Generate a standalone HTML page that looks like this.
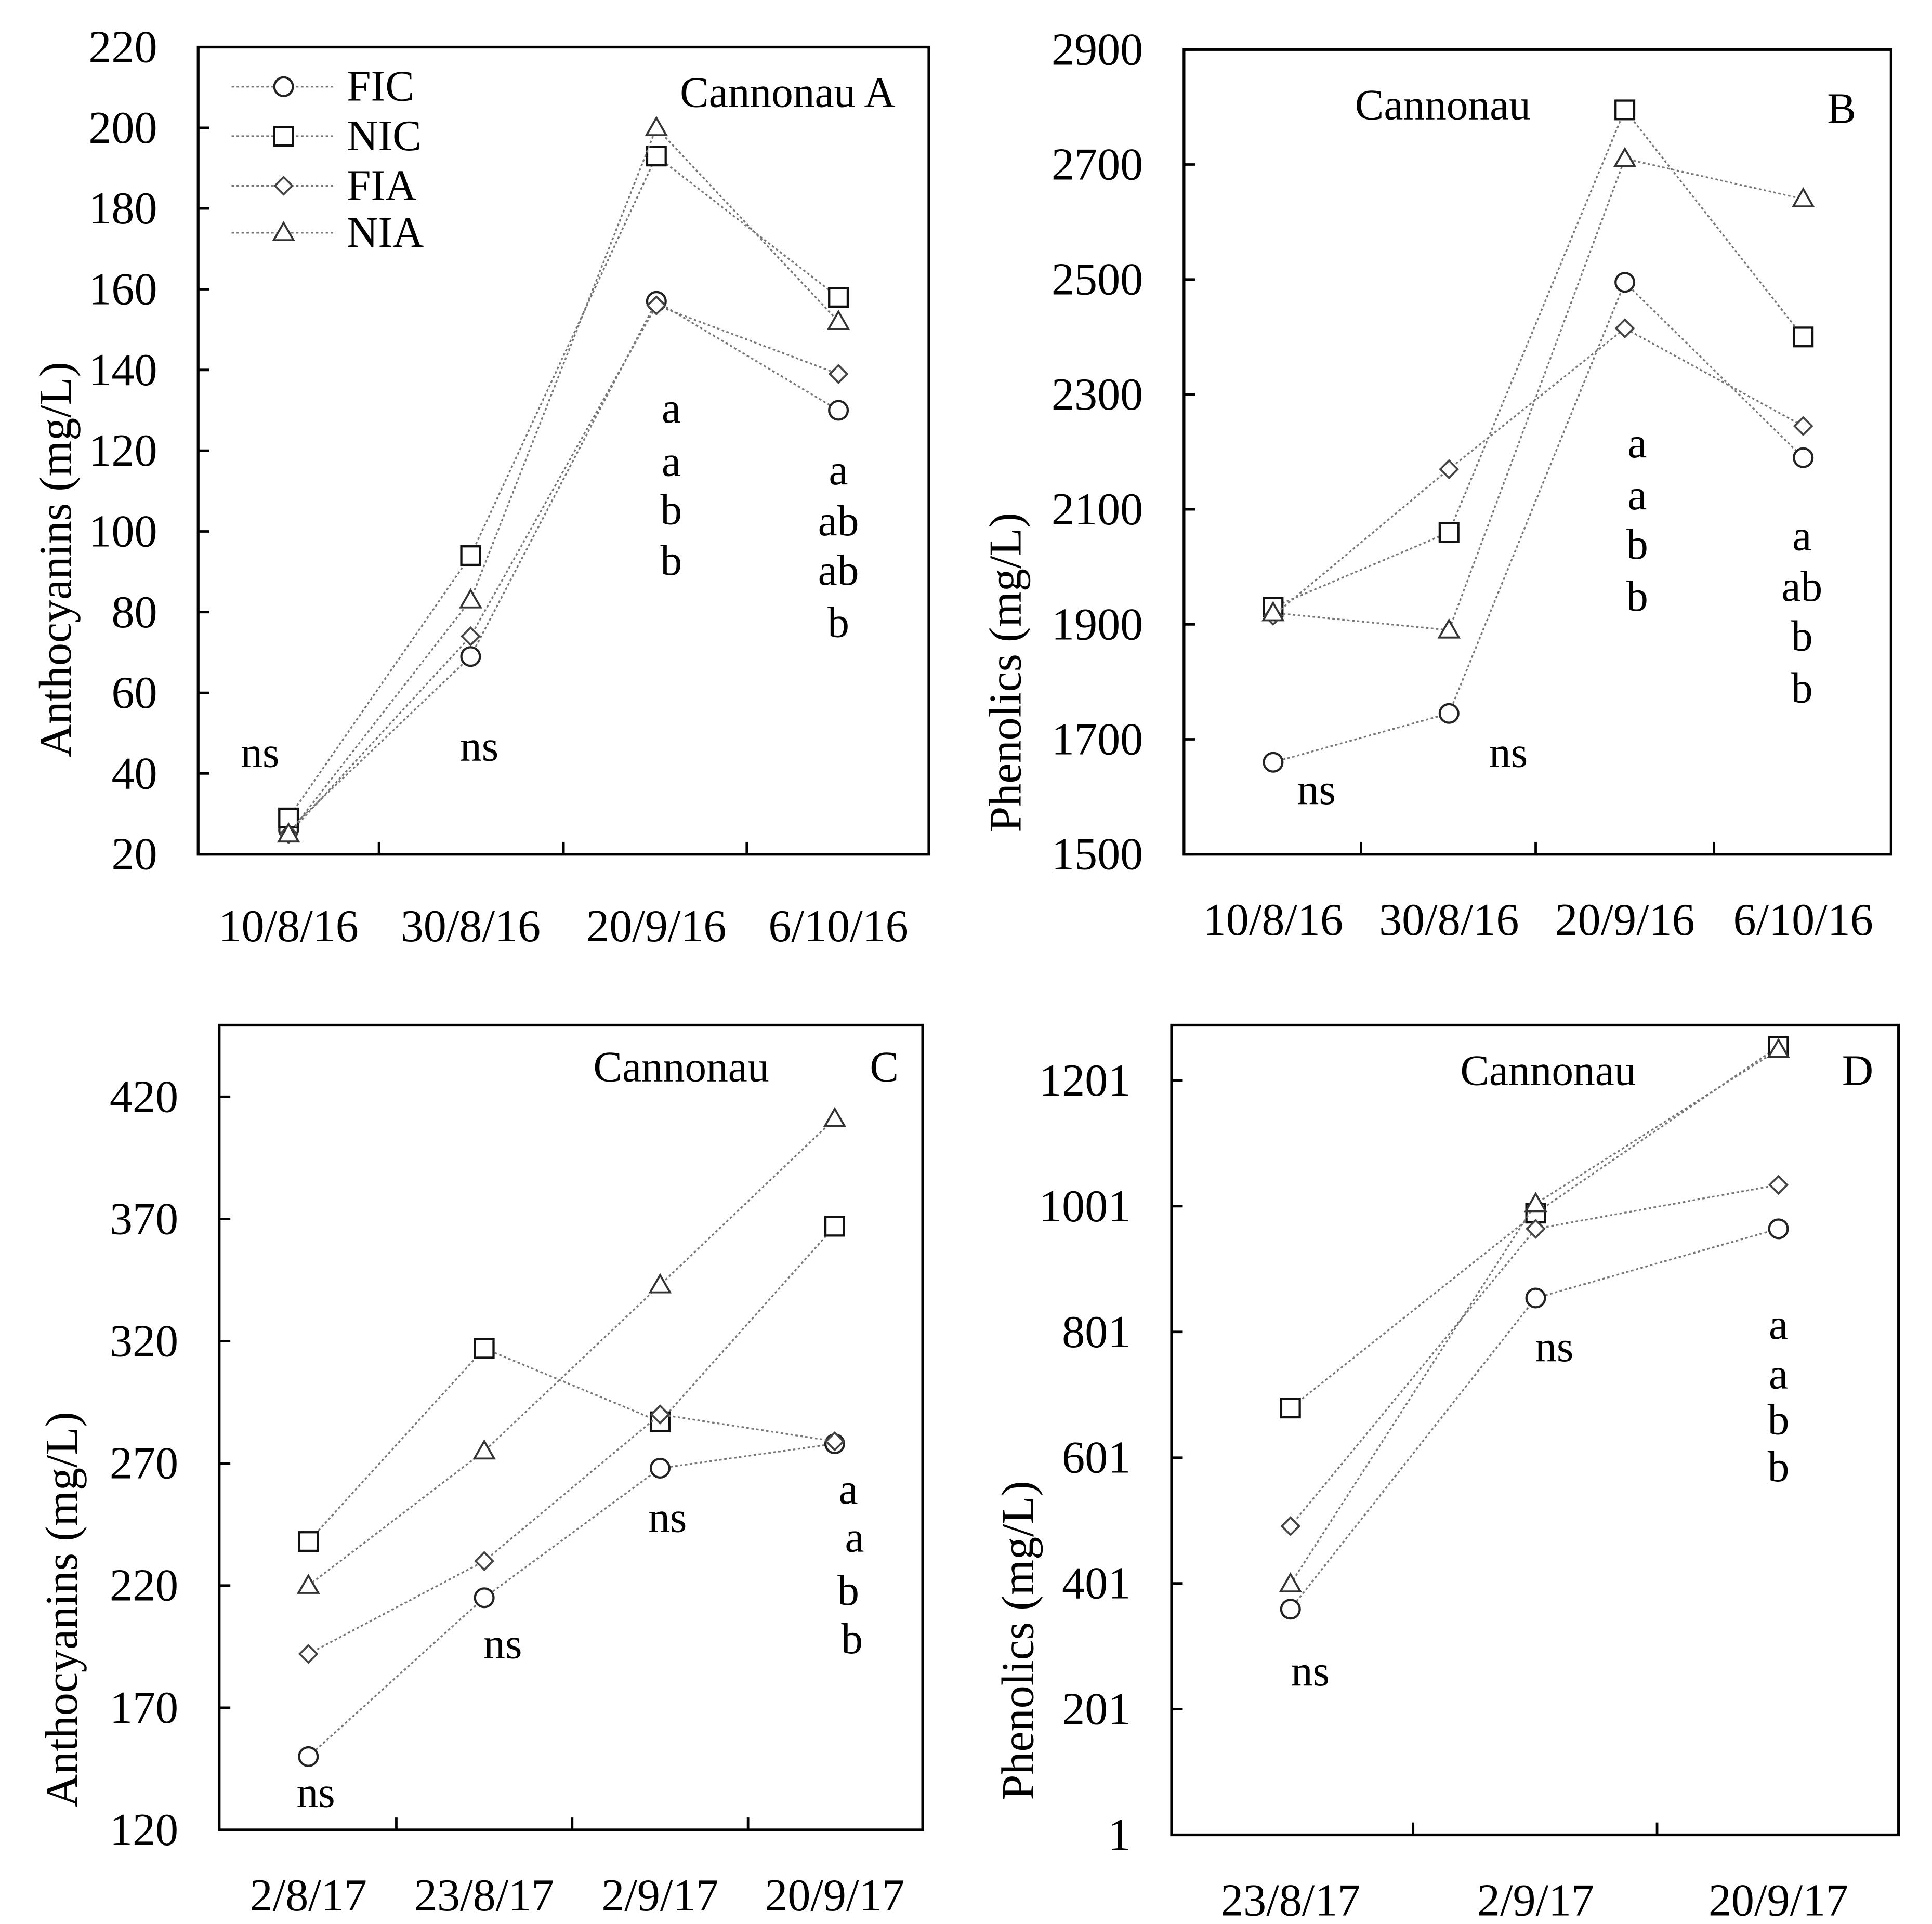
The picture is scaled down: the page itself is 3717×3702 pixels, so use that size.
<!DOCTYPE html>
<html><head><meta charset="utf-8"><style>
html,body{margin:0;padding:0;background:#fff;}
svg{display:block;}
text{font-family:"Liberation Serif",serif;fill:#000;}
</style></head><body>
<svg id="fig" width="3717" height="3702" viewBox="0 0 1560 1554" preserveAspectRatio="none" xmlns="http://www.w3.org/2000/svg"></svg>
<script>
// ---- Data ----
const seriesNames = ["FIC","NIC","FIA","NIA"];
const markers = ["circle","square","diamond","triangle"];

const catsA = ["10/8/16","30/8/16","20/9/16","6/10/16"];
const ficA = [26,69,157,130];
const nicA = [29,94,193,158];
const fiaA = [25,74,156,139];
const niaA = [25,83,200,152];
const ticksA = [20,40,60,80,100,120,140,160,180,200,220];

const catsB = ["10/8/16","30/8/16","20/9/16","6/10/16"];
const ficB = [1660,1745,2495,2190];
const nicB = [1930,2060,2795,2400];
const fiaB = [1915,2170,2415,2245];
const niaB = [1920,1890,2710,2640];
const ticksB = [1500,1700,1900,2100,2300,2500,2700,2900];

const catsC = ["2/8/17","23/8/17","2/9/17","20/9/17"];
const ficC = [150,215,268,278];
const nicC = [238,317,287,367];
const fiaC = [192,230,290,279];
const niaC = [220,275,343,411];
const ticksC = [120,170,220,270,320,370,420];

const catsD = ["23/8/17","2/9/17","20/9/17"];
const ficD = [360,855,965];
const nicD = [680,990,1255];
const fiaD = [492,965,1035];
const niaD = [400,1005,1250];
const ticksD = [1,201,401,601,801,1001,1201];

const NS="http://www.w3.org/2000/svg";
const svg=document.getElementById('fig');
function mk(tag,attrs,parent){const e=document.createElementNS(NS,tag);for(const k in attrs)e.setAttribute(k,attrs[k]);(parent||svg).appendChild(e);return e;}
function txt(s,x,y,size,parent,anchor){const t=mk('text',{x:x,y:y,'font-size':size,'text-anchor':anchor||'middle','dominant-baseline':'central'},parent);t.textContent=s;return t;}

function marker(type,x,y,g){
  let e;
  if(type==='circle') e=mk('circle',{cx:x,cy:y,r:7.5,fill:'#fff',stroke:'#222','stroke-width':1.8},g);
  else if(type==='square') e=mk('rect',{x:x-7.5,y:y-7.5,width:15,height:15,fill:'#fff',stroke:'#111','stroke-width':1.8},g);
  else if(type==='diamond') e=mk('polygon',{points:`${x},${y-7} ${x+7},${y} ${x},${y+7} ${x-7},${y}`,fill:'#fff',stroke:'#444','stroke-width':1.6},g);
  else e=mk('polygon',{points:`${x},${y-8} ${x+8},${y+6} ${x-8},${y+6}`,fill:'#fff',stroke:'#333','stroke-width':1.6},g);
  
  
}

function panel(o){
  const g=mk('g',{});
  
  
  const ys=v=>o.y1-(v-o.vmin)/(o.vmax-o.vmin)*(o.y1-o.y0);
  const xs=i=>o.cx[i];
  o.series.forEach((d,si)=>{
    const sg=mk('g',{},g);
    
    
    const pts=d.map((v,i)=>xs(i)+','+ys(v)).join(' ');
    const l=mk('polyline',{points:pts,fill:'none',stroke:'#777','stroke-width':1.4,'stroke-dasharray':'2,2'},sg);
    
    
    d.forEach((v,i)=>marker(markers[si],xs(i),ys(v),sg));
  });
  const b=mk('rect',{x:o.x0,y:o.y0,width:o.x1-o.x0,height:o.y1-o.y0,fill:'none',stroke:'#000','stroke-width':2.2},g);
  
  
  o.ticks.forEach(t=>{
    const y=ys(t);
    mk('line',{x1:o.x0,x2:o.x0+9,y1:y,y2:y,stroke:'#000','stroke-width':2},g);
    const tl=txt(String(t),o.x0-33,y,37,g,'end');
    
    
  });
  o.xt.forEach(x=>mk('line',{x1:x,x2:x,y1:o.y1,y2:o.y1-10,stroke:'#000','stroke-width':2},g));
  o.cats.forEach((c,i)=>{
    const t=txt(c,xs(i),o.xly,37,g);
    
    
  });
  const yt=mk('text',{x:0,y:0,'font-size':37,'text-anchor':'middle','dominant-baseline':'central',transform:`translate(${o.ytx},${o.yty}) rotate(-90)`},g);
  yt.textContent=o.ytitle;
  
  
  o.notes.forEach(n=>{
    const t=txt(n[0],n[1],n[2],n[3]||35,g);
    
    
  });
}

panel({name:'panel-a',x0:160,x1:750,y0:38,y1:690,vmin:20,vmax:220,cx:[233,380,530,677],xt:[306,455,603],
  cats:catsA,series:[ficA,nicA,fiaA,niaA],ticks:ticksA,xly:748,ytitle:'Anthocyanins (mg/L)',ytx:45,yty:452,
  notes:[['Cannonau A',636,75],['ns',210,608],['ns',387,603],['a',542,330],['a',542,373],['b',542,412],['b',542,453],
  ['a',677,380],['ab',677,421],['ab',677,461],['b',677,503]]});

panel({name:'panel-b',x0:956,x1:1527,y0:40,y1:690,vmin:1500,vmax:2900,cx:[1028,1170,1312,1456],xt:[1099,1240,1384],
  cats:catsB,series:[ficB,nicB,fiaB,niaB],ticks:ticksB,xly:743,ytitle:'Phenolics (mg/L)',ytx:812,yty:543,
  notes:[['Cannonau',1165,85],['B',1487,88],['ns',1063,638],['ns',1218,608],['a',1322,358],['a',1322,400],['b',1322,440],['b',1322,482],
  ['a',1455,433],['ab',1455,474],['b',1455,514],['b',1455,556]]});

panel({name:'panel-c',x0:177,x1:745,y0:828,y1:1478,vmin:120,vmax:449.3,cx:[249,391,533,674],xt:[320,462,604],
  cats:catsC,series:[ficC,nicC,fiaC,niaC],ticks:ticksC,xly:1531,ytitle:'Anthocyanins (mg/L)',ytx:50,yty:1300,
  notes:[['Cannonau',550,862],['C',714,862],['ns',255,1448],['ns',406,1328],['ns',539,1226],['a',685,1203],['a',690,1242],['b',685,1285],['b',688,1324]]});

panel({name:'panel-d',x0:946,x1:1533,y0:828,y1:1482,vmin:1,vmax:1289,cx:[1042,1240,1436],xt:[1141,1338],
  cats:catsD,series:[ficD,nicD,fiaD,niaD],ticks:ticksD,xly:1535,ytitle:'Phenolics  (mg/L)',ytx:822,yty:1325,
  notes:[['Cannonau',1250,865],['D',1500,865],['ns',1058,1350],['ns',1255,1088],['a',1436,1070],['a',1436,1110],['b',1436,1147],['b',1436,1185]]});

const lg=mk('g',{});


seriesNames.forEach((n,i)=>{
  const y=[70,110,150,188][i];
  const eg=mk('g',{},lg);
  
  
  mk('line',{x1:187,x2:270,y1:y,y2:y,stroke:'#777','stroke-width':1.4,'stroke-dasharray':'2,2'},eg);
  marker(markers[i],229,y,eg);
  txt(n,280,y,35,eg,'start');
});
</script>
</body></html>
